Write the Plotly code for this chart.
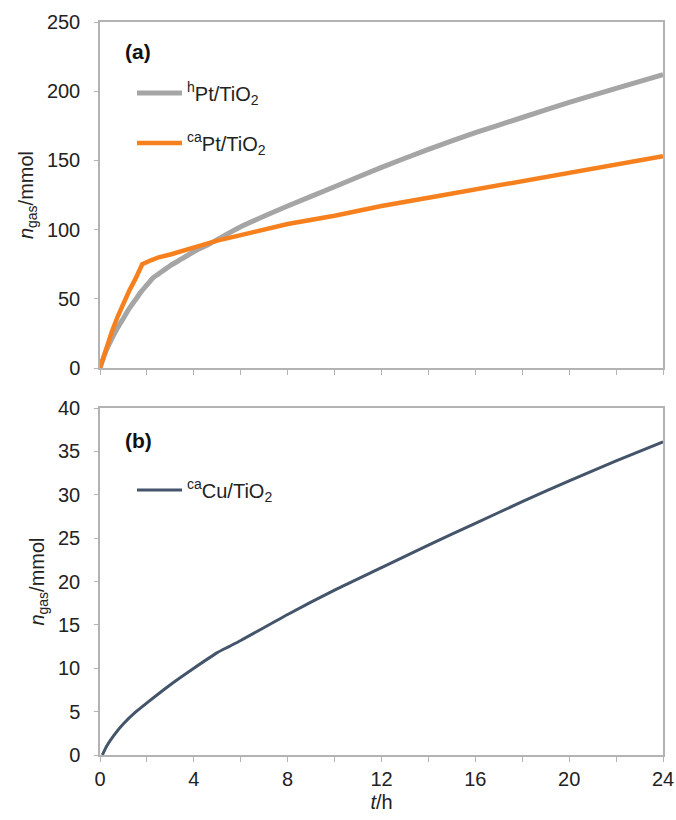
import plotly.graph_objects as go
from plotly.subplots import make_subplots

# ---- data ----
t_hpt = [0, 0.25, 0.5, 0.75, 1, 1.25, 1.5, 1.75, 2, 2.25, 2.5, 3, 3.5, 4, 4.7, 6, 8, 10, 12, 14, 16, 18, 20, 22, 24]
n_hpt = [0, 12, 21, 29, 36, 43, 49, 55, 60, 65, 68, 74, 79, 84, 90, 102, 117, 131, 145, 158, 170, 181, 192, 202, 212]

t_capt = [0, 0.25, 0.5, 0.75, 1, 1.25, 1.5, 1.8, 2.2, 2.5, 3, 4, 5, 6, 8, 10, 12, 14, 16, 18, 20, 22, 24]
n_capt = [0, 14, 26, 37, 47, 56, 64, 75, 78, 80, 82, 87, 92, 96, 104, 110, 117, 123, 129, 135, 141, 147, 153]

t_cu = [0.1, 0.3, 0.6, 1, 1.5, 2, 3, 4, 5, 5.5, 6, 8, 10, 12, 14, 16, 18, 20, 22, 24]
n_cu = [0, 1.1, 2.3, 3.6, 4.9, 6, 8.1, 10, 11.8, 12.5, 13.2, 16.2, 19, 21.6, 24.2, 26.7, 29.2, 31.6, 33.9, 36.1]

x_ticks = [0, 4, 8, 12, 16, 20, 24]

FONT = "Liberation Sans, Arial, sans-serif"
AX = "#b3b3b3"

PL, PR, PT, PB = 100, 663, 22, 755

fig = make_subplots(rows=2, cols=1)
fig.update_layout(
    width=676, height=820,
    margin=dict(l=PL, r=676 - PR, t=PT, b=820 - PB, autoexpand=False),
    paper_bgcolor="white", plot_bgcolor="white",
    font=dict(family=FONT, size=20, color="#222"),
    showlegend=True,
)
H = PB - PT
fig.update_yaxes(domain=[(PB - 368) / H, 1.0], row=1, col=1)
fig.update_yaxes(domain=[0.0, (PB - 408) / H], row=2, col=1)

fig.add_trace(go.Scatter(x=t_hpt, y=n_hpt, mode="lines", name="<sup>h</sup>Pt/TiO<sub>2</sub>",
                         line=dict(color="#a5a5a5", width=5, shape="spline", smoothing=0.6),
                         legend="legend", showlegend=True), row=1, col=1)
fig.add_trace(go.Scatter(x=t_capt, y=n_capt, mode="lines", name="<sup>ca</sup>Pt/TiO<sub>2</sub>",
                         line=dict(color="#f7801e", width=4.5), legend="legend2", showlegend=True), row=1, col=1)
fig.add_trace(go.Scatter(x=t_cu, y=n_cu, mode="lines", name="<sup>ca</sup>Cu/TiO<sub>2</sub>",
                         line=dict(color="#44546a", width=3, shape="spline", smoothing=0.6),
                         legend="legend3", showlegend=True), row=2, col=1)

common_x = dict(range=[0, 24], showline=True, linecolor=AX, linewidth=1.5, mirror=True,
                showgrid=False, zeroline=False, ticks="outside", ticklen=5, tickcolor=AX,
                tickvals=x_ticks, minor=dict(dtick=2, ticks="outside", ticklen=5, tickcolor=AX),
                tickfont=dict(size=20, color="#222"), automargin=False)
fig.update_xaxes(**common_x)
fig.update_xaxes(showticklabels=False, row=1, col=1)
fig.update_xaxes(title=dict(text="<i>t</i>/h", font=dict(size=20), standoff=6), row=2, col=1)

common_y = dict(showline=True, linecolor=AX, linewidth=1.5, mirror=True, showgrid=False,
                zeroline=False, ticks="outside", ticklen=4, tickcolor=AX,
                tickfont=dict(size=20, color="#222"), automargin=False, ticklabelstandoff=10,
                title=dict(text="<i>n</i><sub>gas</sub>/mmol", font=dict(size=20), standoff=8))
fig.update_yaxes(**common_y)
fig.update_yaxes(range=[0, 250], dtick=50, row=1, col=1)
fig.update_yaxes(range=[0, 40], dtick=5, row=2, col=1)

W = PR - PL
leg = dict(bgcolor="rgba(0,0,0,0)", font=dict(size=20, family=FONT, color="#222"),
           xanchor="left", yanchor="middle", itemwidth=45)
fig.update_layout(
    legend=dict(x=(132 - PL) / W, y=(PB - 93) / H, **leg),
    legend2=dict(x=(132 - PL) / W, y=(PB - 143) / H, **leg),
    legend3=dict(x=(132 - PL) / W, y=(PB - 490) / H, **leg),
)

fig.add_annotation(text="<b>(a)</b>", xref="paper", yref="paper", x=(123 - PL) / W, y=(PB - 52) / H,
                   xanchor="left", yanchor="middle", showarrow=False, font=dict(size=21, family=FONT, color="#111"))
fig.add_annotation(text="<b>(b)</b>", xref="paper", yref="paper", x=(123 - PL) / W, y=(PB - 440) / H,
                   xanchor="left", yanchor="middle", showarrow=False, font=dict(size=21, family=FONT, color="#111"))

fig.write_html("out.html", config={"displayModeBar": False},
               post_script="document.body.style.margin='0';document.body.style.overflow='hidden';")
